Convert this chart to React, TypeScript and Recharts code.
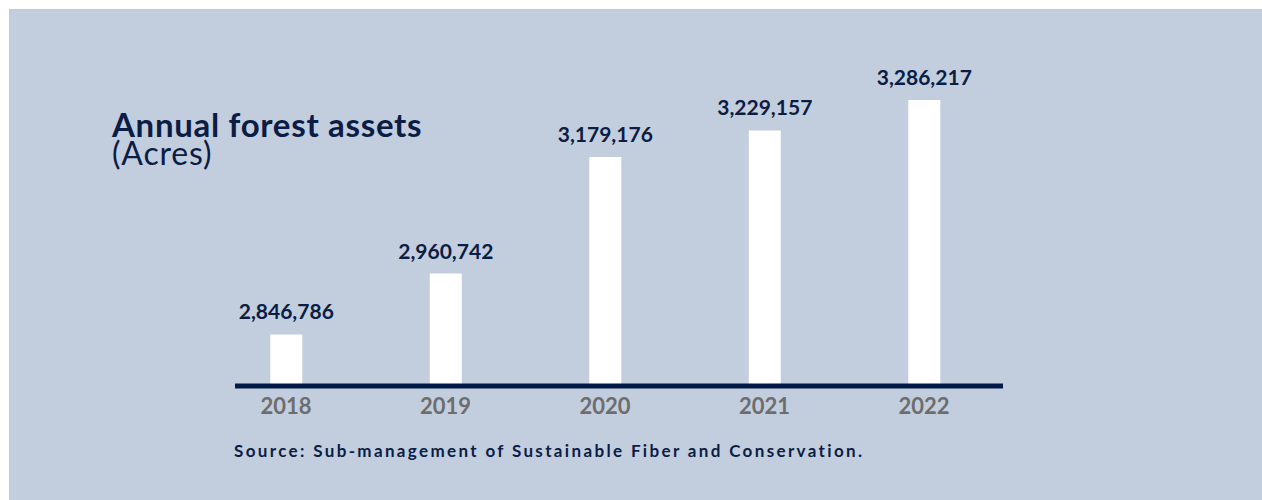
import React from "react";
import { BarChart, Bar, XAxis, YAxis, LabelList } from "recharts";

const years = [2018, 2019, 2020, 2021, 2022];
const acres = [2846786, 2960742, 3179176, 3229157, 3286217];
const yearTicks = [2018, 2019, 2020, 2021, 2022];

const data = years.map((year, i) => ({ year, acres: acres[i] }));

const BG = "#c2cedd";
const NAVY = "#0b1c45";
const FONT = "Lato, 'Open Sans', sans-serif";

const fmt = (v: number) => v.toLocaleString("en-US");

export default function App() {
  return (
    <div
      style={{
        position: "fixed",
        left: 9,
        top: 9,
        right: 0,
        bottom: 0,
        background: BG,
        fontFamily: FONT,
        overflow: "hidden",
      }}
    >
      <BarChart
        width={1253}
        height={491}
        data={data}
        margin={{ top: 91, right: 259, bottom: 74, left: 226 }}
      >
        <YAxis hide domain={[2750000, 3286217]} allowDataOverflow />
        <Bar dataKey="acres" fill="#ffffff" barSize={32} isAnimationActive={false}>
          <LabelList
            dataKey="acres"
            position="top"
            offset={15}
            formatter={(v: any) => fmt(Number(v))}
            style={{ fill: NAVY, fontSize: 21, fontWeight: 700, fontFamily: FONT }}
          />
        </Bar>
        <XAxis
          dataKey="year"
          type="number"
          domain={[2017.68, 2022.495]}
          ticks={yearTicks}
          allowDataOverflow
          height={40}
          tickLine={false}
          tickSize={0}
          tickMargin={12}
          axisLine={{ stroke: "#021a47", strokeWidth: 5 }}
          tick={{ fill: "#6d6d6d", fontSize: 22, fontWeight: 700, fontFamily: FONT }}
        />
      </BarChart>
      <svg
        width={1253}
        height={491}
        style={{ position: "absolute", left: 0, top: 0, pointerEvents: "none" }}
      >
        <text
          x={103}
          y={128}
          fill={NAVY}
          fontSize={33}
          fontWeight={700}
          fontFamily={FONT}
          letterSpacing={0.7}
        >
          Annual forest assets
        </text>
        <text
          x={103}
          y={156}
          fill={NAVY}
          fontSize={32}
          fontWeight={400}
          fontFamily={FONT}
          letterSpacing={0.8}
        >
          (Acres)
        </text>
        <text
          x={225}
          y={448}
          fill={NAVY}
          fontSize={17}
          fontWeight={700}
          fontFamily={FONT}
          letterSpacing={2.35}
        >
          Source: Sub-management of Sustainable Fiber and Conservation.
        </text>
      </svg>
    </div>
  );
}
